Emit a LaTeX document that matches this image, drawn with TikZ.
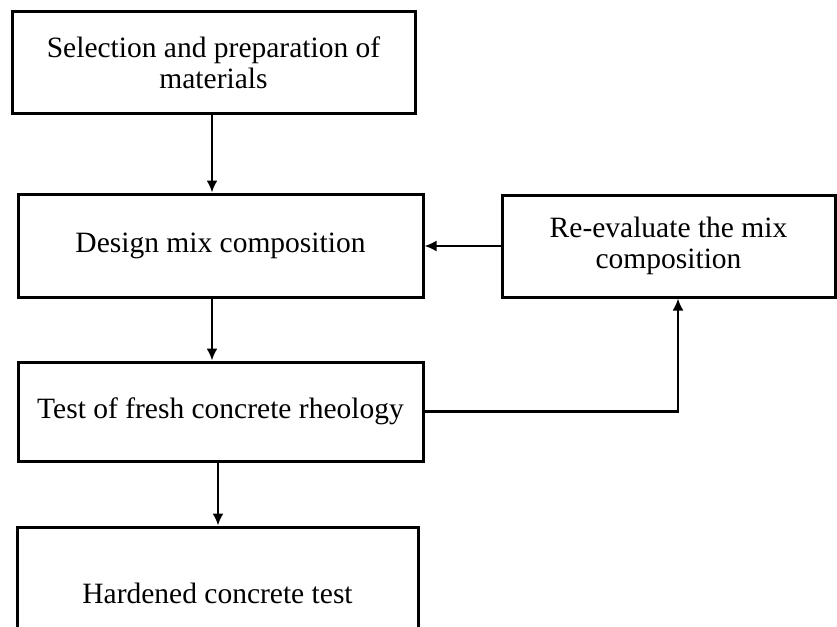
\documentclass[tikz,border=0pt]{standalone}
\usepackage{fontspec}
\setmainfont{Liberation Serif}
\usetikzlibrary{arrows.meta}
\begin{document}
\begin{tikzpicture}[x=1pt,y=-1pt,
  box/.style={draw=black, line width=3pt, align=center, inner sep=0pt,
    font=\fontsize{29.5}{31}\selectfont},
  conn/.style={draw=black, line width=2.2pt, -{Latex[length=12pt,width=11pt]}}]
\useasboundingbox (0,0) rectangle (837,626);
\clip (0,0) rectangle (837,626);
\fill[white] (0,0) rectangle (837,626);
\node[box, minimum width=403pt, minimum height=101pt] (sel) at (213.5,62.5)
  {Selection and preparation of\\materials};
\node[box, minimum width=405pt, minimum height=103pt] (dm) at (220.5,245.5)
  {Design mix composition};
\node[box, minimum width=333pt, minimum height=102pt] (re) at (668.5,246)
  {Re-evaluate the mix\\composition};
\node[box, minimum width=405pt, minimum height=99pt] (test) at (220.5,411.5)
  {Test of fresh concrete rheology};
\node[box, minimum width=401pt, minimum height=132pt] (hard) at (217.5,593)
  {Hardened concrete test};
\draw[conn] (212,0 |- sel.south) -- (212,0 |- dm.north);
\draw[conn] (212,0 |- dm.south) -- (212,0 |- test.north);
\draw[conn] (218,0 |- test.south) -- (218,0 |- hard.north);
\draw[conn] (re.west) -- (dm.east |- re.west);
\draw[conn] (test.east) -| (678,0 |- re.south);
\end{tikzpicture}
\end{document}
